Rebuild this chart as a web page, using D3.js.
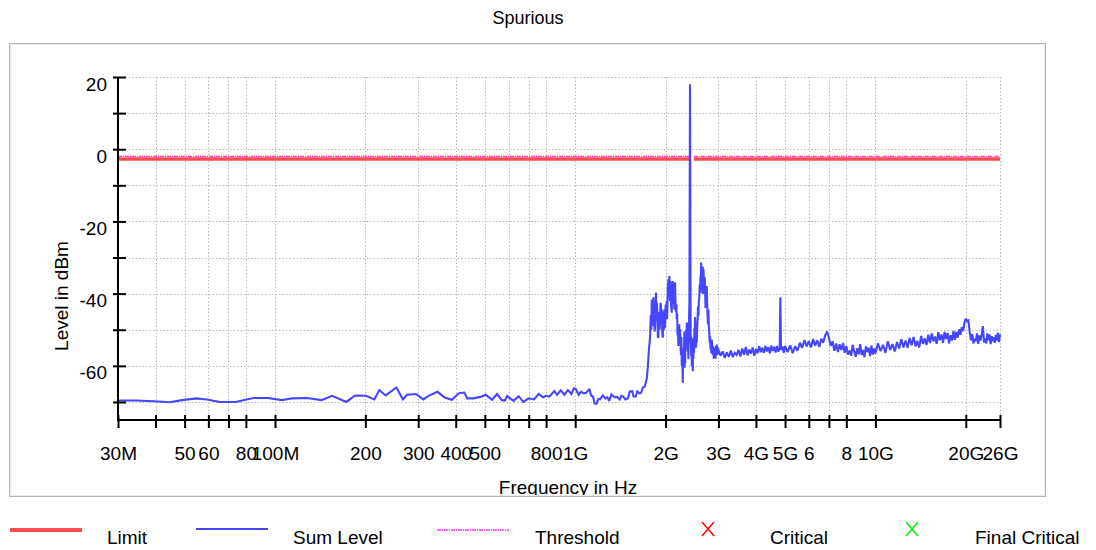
<!DOCTYPE html>
<html>
<head>
<meta charset="utf-8">
<script src="https://cdn.jsdelivr.net/npm/d3@7"></script>
<style>
  body { margin: 0; background: #fff; }
  text { font-family: "Liberation Sans", Arial, sans-serif; fill: #000; }
</style>
</head>
<body>
<svg id="chart" width="1096" height="550"></svg>
<script>
// ---- axis ticks (frequency in MHz, level in dBm) ----
const xTickValues = [30, 40, 50, 60, 70, 80, 100, 200, 300, 400, 500, 600, 700, 800, 1000,
                     2000, 3000, 4000, 5000, 6000, 7000, 8000, 10000, 20000, 26000];
const xTickLabels = ["30M", "", "50", "60", "", "80", "100M", "200", "300", "400", "500", "", "", "800", "1G",
                     "2G", "3G", "4G", "5G", "6", "", "8", "10G", "20G", "26G"];
const yTickValues = [20, 10, 0, -10, -20, -30, -40, -50, -60, -70];
const yTickLabels = ["20", "", "0", "", "-20", "", "-40", "", "-60", ""];

// ---- limit / threshold (carrier band 2400-2483.5 MHz excluded) ----
const limitBands = [[30, 2400], [2483.5, 26000]];
const limitLevel = -2.7;
const thresholdLevel = -2.0;

// ---- Sum Level trace: [MHz, dBm] ----
const sumLow = [
  [30, -69.6], [34.4, -69.6], [39.4, -69.8], [44.6, -70.1], [49.0, -69.5], [54.7, -69.0],
  [59.4, -69.3], [65.4, -70.0], [74.0, -70.0], [80.3, -69.3], [84.9, -68.9], [94.7, -68.9],
  [105.5, -69.5], [114.7, -69.0], [127.8, -68.9], [142.8, -69.5], [154.9, -68.3], [173.0, -70.0],
  [184.7, -68.2], [201.0, -68.3], [214.3, -69.3], [222.6, -66.7], [233.8, -68.2], [253.9, -66.0],
  [266.8, -69.3], [275.3, -68.0], [295.0, -67.8], [311.7, -69.3], [324.9, -68.3], [347.9, -67.2],
  [367.4, -68.8], [388.2, -69.4], [410.3, -67.6], [427.3, -67.4], [437, -69.0], [457.5, -69.0],
  [483.5, -68.6], [503.6, -68.0], [528.5, -69.4], [549.2, -67.8], [569.7, -69.5], [583, -69.6],
  [592.9, -68.4], [623.7, -69.7], [648.1, -68.4], [671.3, -70.0], [699.7, -69.0], [729.3, -69.3],
  [755.5, -67.8], [780.9, -68.7], [800, -68.3], [820.2, -68.5], [852.2, -67.0], [870.1, -68.0],
  [895.1, -66.8], [920.2, -68.0], [945.8, -66.7], [971.5, -67.8], [990, -66.2], [1004, -66.4],
  [1027, -68.0], [1045, -67.2], [1070, -67.6], [1090, -67.4], [1115, -66.4], [1130, -68.2],
  [1146, -68.5], [1160, -70.4], [1177, -70.5], [1195, -69.2], [1210, -69.3], [1235, -68.2],
  [1262, -69.0], [1280, -68.7], [1297, -69.7], [1320, -67.9], [1351, -68.7], [1380, -68.6],
  [1407, -69.3], [1425, -68.3], [1446, -68.5], [1470, -69.3], [1499, -69.0], [1520, -67.1],
  [1548, -67.0], [1565, -68.5], [1591, -68.5], [1610, -67.1], [1635, -67.6], [1657, -67.5],
  [1680, -66.0], [1704, -65.8], [1731, -63.5], [1745, -60.5]
];

const sumCarrier = [
  [1762, -55.0], [1770, -53.5], [1776, -51.8], [1785, -46.0], [1792, -50.0], [1799, -41.6],
  [1806, -49.0], [1813, -46.2], [1822, -41.0], [1826, -47.0], [1831, -42.5], [1838, -50.5],
  [1845, -49.0], [1852, -43.0], [1859, -39.7], [1862, -45.5], [1866, -47.5], [1872, -42.5],
  [1878, -46.2], [1885, -52.0], [1893, -52.2], [1899, -45.0], [1905, -46.0], [1911, -50.0],
  [1917, -47.1], [1924, -42.5], [1930, -43.5], [1937, -48.5], [1943, -44.4], [1950, -51.0],
  [1958, -52.2], [1964, -45.0], [1970, -46.0], [1976, -50.0], [1982, -44.4], [1989, -49.5],
  [1995, -47.5], [2001, -43.0], [2008, -46.2], [2013, -44.0], [2018, -42.0], [2023, -47.0],
  [2028, -43.9], [2036, -38.0], [2045, -36.0], [2052, -41.0], [2059, -35.1], [2064, -40.5],
  [2070, -42.0], [2076, -36.5], [2081, -37.9], [2086, -43.0], [2090, -44.0], [2097, -45.3],
  [2101, -40.0], [2105, -38.0], [2110, -42.0], [2114, -36.5], [2120, -41.0], [2127, -43.0],
  [2134, -39.5], [2140, -44.4], [2145, -38.5], [2151, -36.9], [2158, -42.0], [2165, -45.0],
  [2172, -43.0], [2179, -47.1], [2186, -45.5], [2192, -51.5], [2199, -49.0], [2206, -54.5],
  [2213, -50.0], [2220, -48.5], [2228, -53.0], [2235, -49.9], [2243, -54.0], [2250, -57.0],
  [2258, -52.0], [2265, -60.1], [2270, -55.0], [2275, -58.0], [2282, -64.7], [2287, -58.0],
  [2292, -56.0], [2298, -60.0], [2305, -54.5], [2310, -50.5], [2314, -60.5], [2319, -56.0],
  [2323, -59.2], [2330, -52.0], [2338, -50.0], [2346, -55.0], [2354, -48.0], [2361, -52.0],
  [2368, -56.0], [2376, -53.0], [2383, -58.2], [2392, -49.0], [2401, -42.5], [2412, 18.0],
  [2424, -50.8], [2430, -54.0], [2436, -57.5], [2441, -52.0], [2446, -60.1], [2455, -55.0],
  [2460, -58.5], [2464, -61.5], [2470, -55.0], [2476, -58.0], [2482, -52.5], [2489, -56.4],
  [2495, -49.5], [2500, -52.0], [2507, -46.5], [2514, -49.9], [2520, -51.5], [2527, -55.0],
  [2534, -50.0], [2541, -53.6], [2549, -49.0], [2557, -47.0], [2565, -43.5], [2573, -46.2],
  [2582, -42.0], [2590, -41.0], [2598, -37.5], [2607, -39.7], [2612, -36.0], [2617, -35.0],
  [2622, -38.5], [2627, -31.4], [2632, -34.0], [2637, -38.0], [2642, -33.0], [2647, -36.0],
  [2654, -40.0], [2660, -32.5], [2667, -37.0], [2674, -33.2], [2682, -36.0], [2690, -40.0],
  [2700, -35.5], [2709, -38.8], [2717, -44.0], [2725, -42.0], [2735, -40.0], [2744, -37.9],
  [2752, -43.0], [2760, -46.0], [2770, -48.5], [2778, -44.4], [2786, -49.0], [2795, -50.5],
  [2805, -53.5], [2814, -51.8], [2822, -55.5], [2832, -54.0], [2841, -56.5], [2851, -52.7],
  [2860, -55.0], [2870, -57.0], [2878, -54.5], [2887, -55.5], [2895, -58.0], [2905, -57.5],
  [2914, -55.0], [2924, -56.4], [2934, -58.0], [2945, -54.5], [2953, -57.0], [2963, -54.1],
  [2971, -56.0], [2980, -57.0], [2990, -55.0], [2999, -55.5]
];

const sumHigh = [
  [3050, -57.2], [3100, -56.0], [3150, -57.8], [3200, -56.3], [3250, -57.5], [3300, -55.8],
  [3350, -57.6], [3400, -56.4], [3450, -57.0], [3500, -55.6], [3550, -57.4], [3600, -55.2],
  [3650, -56.9], [3700, -54.8], [3750, -57.1], [3800, -55.5], [3850, -56.6], [3900, -54.9],
  [3950, -57.2], [4000, -55.3], [4050, -56.5], [4100, -54.6], [4150, -56.2], [4200, -55.0],
  [4250, -56.4], [4300, -54.5], [4350, -56.0], [4400, -54.8], [4450, -56.5], [4500, -54.4],
  [4550, -55.9], [4600, -54.7], [4650, -56.3], [4700, -54.5], [4750, -56.1], [4800, -55.0],
  [4824, -41.0], [4850, -55.6], [4900, -54.6], [4950, -56.4], [5000, -54.5], [5100, -56.2],
  [5200, -54.3], [5300, -56.5], [5400, -54.6], [5500, -55.8], [5600, -53.6], [5700, -55.0],
  [5800, -52.9], [5900, -54.6], [6000, -53.2], [6100, -54.9], [6200, -52.6], [6300, -54.4],
  [6400, -52.9], [6500, -54.8], [6600, -52.5], [6700, -53.6], [6800, -51.6], [6900, -50.5],
  [7000, -52.2], [7100, -54.5], [7200, -53.2], [7300, -55.8], [7400, -53.8], [7500, -56.2],
  [7600, -54.0], [7700, -55.6], [7800, -53.7], [7900, -56.4], [8000, -54.5], [8100, -56.9],
  [8200, -55.8], [8300, -57.2], [8400, -54.2], [8500, -56.0], [8600, -57.5], [8700, -55.1],
  [8800, -56.8], [8900, -54.0], [9000, -57.0], [9100, -55.6], [9200, -57.6], [9300, -54.6],
  [9400, -56.2], [9500, -55.0], [9600, -57.3], [9700, -54.4], [9800, -56.9], [9900, -55.2],
  [10000, -56.6], [10200, -53.8], [10400, -55.9], [10600, -54.2], [10800, -56.4], [11000, -53.2],
  [11200, -55.6], [11400, -54.0], [11600, -56.0], [11800, -53.4], [12000, -55.2], [12200, -52.6],
  [12400, -54.9], [12600, -53.0], [12800, -55.0], [13000, -52.3], [13200, -54.3], [13400, -52.0],
  [13600, -54.6], [13800, -53.1], [14000, -54.9], [14200, -51.7], [14400, -53.9], [14600, -52.4],
  [14800, -54.2], [15000, -51.4], [15200, -53.7], [15400, -51.0], [15600, -53.2], [15800, -51.9],
  [16000, -53.9], [16200, -50.7], [16400, -52.9], [16600, -51.3], [16800, -53.6], [17000, -50.6],
  [17200, -52.6], [17400, -50.9], [17600, -53.8], [17800, -51.5], [18000, -53.0], [18200, -50.3],
  [18400, -52.8], [18600, -50.6], [18800, -52.2], [19000, -49.9], [19200, -51.4], [19400, -49.2],
  [19600, -50.4], [19800, -48.0], [20000, -46.9], [20200, -47.6], [20400, -47.4], [20600, -50.5],
  [20800, -52.9], [21000, -51.2], [21200, -53.8], [21400, -52.5], [21600, -53.2], [21800, -51.0],
  [22000, -53.9], [22200, -51.6], [22400, -53.0], [22600, -51.2], [22800, -49.0], [23000, -53.5],
  [23200, -52.4], [23400, -53.8], [23600, -51.0], [23800, -52.9], [24000, -51.3], [24200, -54.0],
  [24400, -51.8], [24600, -53.2], [24800, -52.1], [25000, -53.6], [25200, -51.4], [25400, -53.0],
  [25600, -50.8], [25800, -53.4], [26000, -51.2]
];

// ---- legend ----
const legendNames = ["Limit", "Sum Level", "Threshold", "Critical", "Final Critical"];
const legendKinds = ["limit", "sum", "threshold", "critical", "final"];

// ---- colours ----
const colLimit = "#ff4b4b";
const colSum = "#4646ff";
const colThreshold = "#ff33ff";
const colCritical = "#ff0000";
const colFinal = "#00ee00";

const svg = d3.select("#chart");
const plot = { left: 118, right: 1000, top: 77, bottom: 420 };

const x = d3.scaleLog().domain([30, 26000]).range([plot.left, plot.right]);
const y = d3.scaleLinear().domain([-75, 20]).range([plot.bottom, plot.top]);

// frame
svg.append("rect").attr("x", 9.5).attr("y", 43.5).attr("width", 1036).attr("height", 453)
  .attr("fill", "#fff").attr("stroke", "#b4b4b4").attr("stroke-width", 1);
svg.append("rect").attr("x", 10.5).attr("y", 44.5).attr("width", 1034).attr("height", 451)
  .attr("fill", "none").attr("stroke", "#ececec").attr("stroke-width", 1);

svg.append("defs").append("clipPath").attr("id", "frameClip")
  .append("rect").attr("x", 10).attr("y", 44).attr("width", 1035).attr("height", 451);
svg.select("defs").append("clipPath").attr("id", "plotClip")
  .append("rect").attr("x", plot.left).attr("y", plot.top - 10)
  .attr("width", plot.right - plot.left + 2).attr("height", plot.bottom - plot.top + 10);

// title
svg.append("text").attr("x", 528).attr("y", 24).attr("text-anchor", "middle")
  .attr("font-size", 18).text("Spurious");

// grid
const grid = svg.append("g").attr("stroke", "#b8b8b8").attr("stroke-width", 1)
  .attr("stroke-dasharray", "1.5,2");
grid.selectAll("line.v").data(xTickValues).join("line").attr("class", "v")
  .attr("x1", d => Math.round(x(d)) + 0.5).attr("x2", d => Math.round(x(d)) + 0.5)
  .attr("y1", plot.top).attr("y2", plot.bottom);
grid.selectAll("line.h").data(yTickValues).join("line").attr("class", "h")
  .attr("x1", plot.left).attr("x2", plot.right)
  .attr("y1", d => Math.round(y(d)) + 0.5).attr("y2", d => Math.round(y(d)) + 0.5);

const traces = svg.append("g").attr("clip-path", "url(#plotClip)");

// limit and threshold
limitBands.forEach(b => {
  traces.append("line").attr("x1", x(b[0])).attr("x2", x(b[1]))
    .attr("y1", y(limitLevel)).attr("y2", y(limitLevel))
    .attr("stroke", colLimit).attr("stroke-width", 3.4);
});
limitBands.forEach(b => {
  traces.append("line").attr("x1", x(b[0])).attr("x2", x(b[1]))
    .attr("y1", y(thresholdLevel)).attr("y2", y(thresholdLevel))
    .attr("stroke", colThreshold).attr("stroke-width", 1.3)
    .attr("stroke-dasharray", "4,1,1,1");
});

// sum level
const line = d3.line().x(d => x(d[0])).y(d => y(d[1]));
const sumData = sumLow.concat(sumCarrier, sumHigh);
traces.append("path").datum(sumData).attr("d", line)
  .attr("fill", "none").attr("stroke", colSum).attr("stroke-width", 2.1)
  .attr("stroke-linejoin", "miter").attr("stroke-miterlimit", 2);

// x axis
const xAxis = d3.axisBottom(x).tickValues(xTickValues)
  .tickFormat((d, i) => xTickLabels[i]).tickSizeInner(8).tickSizeOuter(0);
const gx = svg.append("g").attr("transform", `translate(0,${plot.bottom})`).call(xAxis);
gx.select(".domain").attr("stroke", "#000").attr("stroke-width", 2)
  .attr("d", `M${plot.left - 1},0H${plot.right + 1}`);
gx.selectAll(".tick line").attr("y1", -5).attr("y2", 8).attr("stroke", "#000").attr("stroke-width", 2);
gx.selectAll(".tick text").attr("y", 40).attr("dy", 0).attr("font-size", 19)
  .attr("font-family", "Liberation Sans, Arial, sans-serif").attr("fill", "#000");

// y axis
const yAxis = d3.axisLeft(y).tickValues(yTickValues)
  .tickFormat((d, i) => yTickLabels[i]).tickSizeInner(5).tickSizeOuter(0);
const gy = svg.append("g").attr("transform", `translate(${plot.left},0)`).call(yAxis);
gy.select(".domain").attr("stroke", "#000").attr("stroke-width", 2)
  .attr("d", `M0,${plot.top}V${plot.bottom + 1}`);
gy.selectAll(".tick line").attr("x1", -5).attr("x2", 8).attr("stroke", "#000").attr("stroke-width", 2);
gy.selectAll(".tick text").attr("x", -11).attr("dy", 0).attr("y", 13).attr("font-size", 19)
  .attr("font-family", "Liberation Sans, Arial, sans-serif").attr("fill", "#000");

// axis titles
svg.append("text").attr("transform", "translate(68,296) rotate(-90)")
  .attr("text-anchor", "middle").attr("font-size", 19).text("Level in dBm");
svg.append("text").attr("x", 568).attr("y", 494).attr("text-anchor", "middle")
  .attr("font-size", 19).attr("clip-path", "url(#frameClip)").text("Frequency in Hz");

// legend
const legendX = [10, 196, 437, 702, 906];
const legendTextX = [107, 293, 535, 770, 975];
const lg = svg.append("g");
legendKinds.forEach((k, i) => {
  const x0 = legendX[i];
  if (k === "limit") {
    lg.append("line").attr("x1", x0).attr("x2", x0 + 72).attr("y1", 530).attr("y2", 530)
      .attr("stroke", colLimit).attr("stroke-width", 4);
  } else if (k === "sum") {
    lg.append("line").attr("x1", x0).attr("x2", x0 + 72).attr("y1", 529).attr("y2", 529)
      .attr("stroke", colSum).attr("stroke-width", 2);
  } else if (k === "threshold") {
    lg.append("line").attr("x1", x0).attr("x2", x0 + 72).attr("y1", 530).attr("y2", 530)
      .attr("stroke", colThreshold).attr("stroke-width", 1.5).attr("stroke-dasharray", "4,1,1,1");
  } else {
    const c = k === "critical" ? colCritical : colFinal;
    lg.append("path").attr("d", `M${x0},522L${x0 + 12},536M${x0 + 12},522L${x0},536`)
      .attr("stroke", c).attr("stroke-width", 1.4).attr("fill", "none");
  }
  lg.append("text").attr("x", legendTextX[i]).attr("y", 544).attr("font-size", 19)
    .text(legendNames[i]);
});
</script>
</body>
</html>
